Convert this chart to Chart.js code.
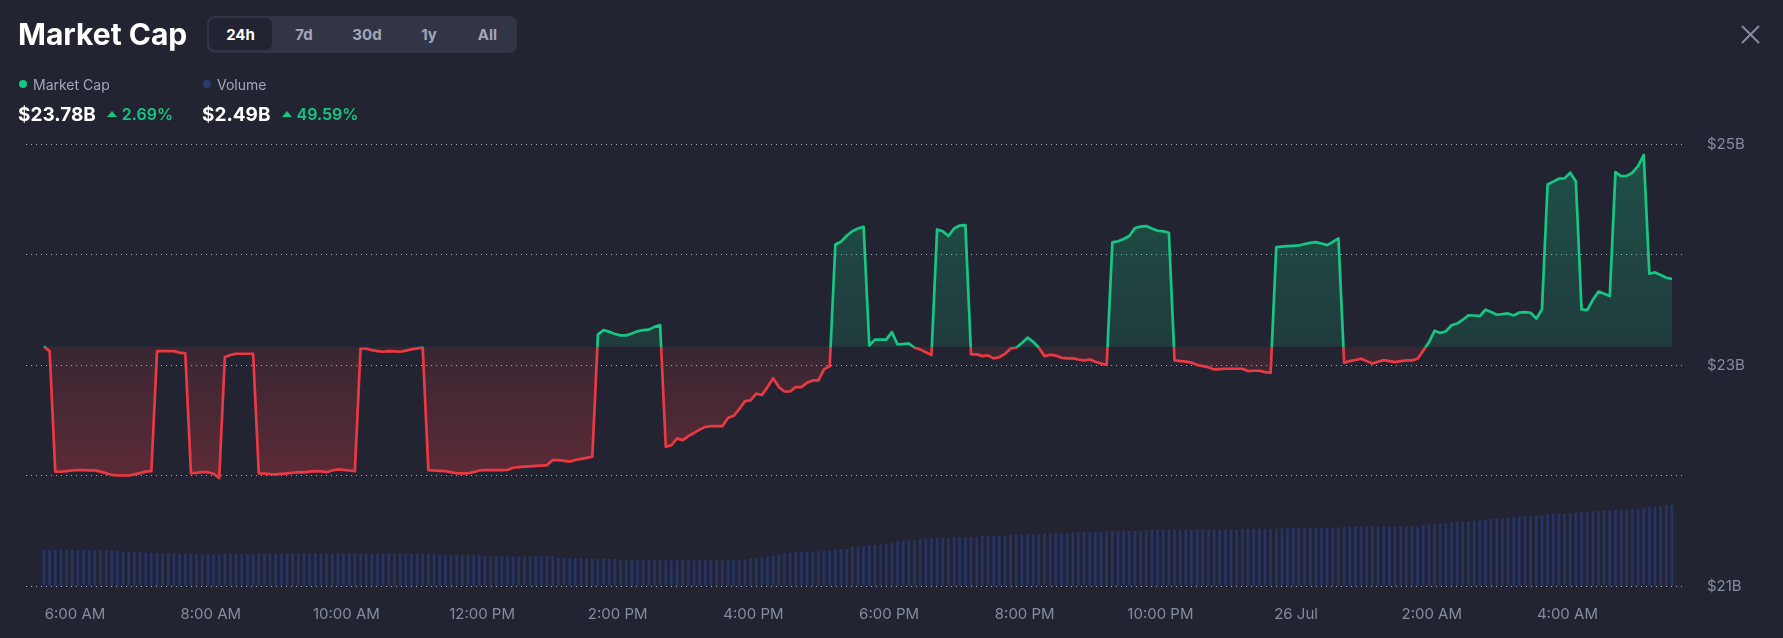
<!DOCTYPE html>
<html>
<head>
<meta charset="utf-8">
<title>Market Cap</title>
<script src="https://cdn.jsdelivr.net/npm/chart.js@4.4.1/dist/chart.umd.min.js"></script>
<style>
  html, body { margin: 0; padding: 0; background: #222531; }
  body { width: 1783px; height: 638px; position: relative; overflow: hidden; font-family: Inter, "Noto Sans", sans-serif; }
  #wrap { position: absolute; left: 0; top: 0; width: 1783px; height: 638px; }
  .title { position: absolute; left: 18px; top: 19px; font-size: 30px; line-height: 1; font-weight: 700; color: #fff; }
  .tabs { position: absolute; left: 207px; top: 16px; width: 306px; height: 32px; padding: 2px 2px 3px 2px; background: #323546; border-radius: 8px; display: flex; }
  .tab { display: flex; align-items: center; justify-content: center; font-size: 15px; font-weight: 700; color: #a1a7bb; border-radius: 6px; }
  .tab.on { background: #222531; color: #fff; }
  .close { position: absolute; left: 1741px; top: 25px; }
  .leg { position: absolute; top: 74px; height: 20px; display: flex; align-items: center; font-size: 14px; color: #a1a7bb; }
  .dot { width: 8px; height: 8px; border-radius: 50%; margin-right: 6px; }
  .val { position: absolute; top: 103px; height: 22px; display: flex; align-items: center; }
  .num { font-size: 19px; font-weight: 700; color: #fff; }
  .up { width: 0; height: 0; border-left: 5px solid transparent; border-right: 5px solid transparent; border-bottom: 6px solid #16c784; margin: 0 5px 0 11px; }
  .pct { font-size: 16px; font-weight: 600; color: #16c784; }
</style>
</head>
<body>
<div id="wrap"><canvas id="chart"></canvas></div>

<div class="title">Market Cap</div>
<div class="tabs">
  <div class="tab on" style="width:63px">24h</div><div class="tab" style="width:64px">7d</div><div class="tab" style="width:62px">30d</div><div class="tab" style="width:62px">1y</div><div class="tab" style="width:55px">All</div>
</div>
<svg class="close" width="19" height="19" viewBox="0 0 19 19">
  <path d="M1.5 1.5 L17.5 17.5 M17.5 1.5 L1.5 17.5" stroke="#858ca2" stroke-width="2" stroke-linecap="round"/>
</svg>

<div class="leg" style="left:19px"><span class="dot" style="background:#16c784"></span>Market Cap</div>
<div class="leg" style="left:203px"><span class="dot" style="background:#2d3770"></span>Volume</div>

<div class="val" style="left:18px"><span class="num">$23.78B</span><span class="up"></span><span class="pct">2.69%</span></div>
<div class="val" style="left:202px"><span class="num">$2.49B</span><span class="up"></span><span class="pct">49.59%</span></div>

<script>
// 5-minute points, first one at 5:32:30 AM (minutes after midnight)
const startMinute = 332.5;
const stepMinutes = 5;

// market cap in $B, one row per hour
const marketCap = [
  23.166, 23.126, 22.034, 22.035, 22.040, 22.045, 22.050, 22.048, 22.046, 22.046, 22.035, 22.020,
  22.005, 22.000, 22.000, 22.000, 22.010, 22.022, 22.035, 22.040, 23.126, 23.126, 23.126, 23.126,
  23.112, 23.105, 22.020, 22.025, 22.030, 22.030, 22.016, 21.977, 23.072, 23.090, 23.102, 23.102,
  23.102, 23.102, 22.020, 22.018, 22.012, 22.010, 22.015, 22.020, 22.025, 22.030, 22.028, 22.035,
  22.040, 22.038, 22.030, 22.045, 22.055, 22.050, 22.045, 22.040, 23.147, 23.147, 23.135, 23.125,
  23.120, 23.126, 23.124, 23.120, 23.130, 23.141, 23.150, 23.156, 22.049, 22.045, 22.042, 22.040,
  22.030, 22.020, 22.020, 22.020, 22.030, 22.045, 22.049, 22.049, 22.049, 22.049, 22.050, 22.070,
  22.075, 22.080, 22.083, 22.087, 22.090, 22.094, 22.140, 22.140, 22.132, 22.125, 22.140, 22.150,
  22.160, 22.170, 23.277, 23.316, 23.300, 23.280, 23.268, 23.268, 23.285, 23.305, 23.316, 23.320,
  23.345, 23.361, 22.260, 22.275, 22.336, 22.320, 22.357, 22.385, 22.415, 22.440, 22.446, 22.446,
  22.446, 22.520, 22.540, 22.600, 22.673, 22.680, 22.740, 22.728, 22.800, 22.880, 22.800, 22.760,
  22.760, 22.800, 22.800, 22.840, 22.860, 22.860, 22.960, 22.990, 24.090, 24.116, 24.170, 24.210,
  24.235, 24.250, 23.177, 23.230, 23.230, 23.230, 23.298, 23.186, 23.190, 23.195, 23.156, 23.141,
  23.115, 23.090, 24.227, 24.210, 24.167, 24.235, 24.262, 24.266, 23.096, 23.096, 23.080, 23.087,
  23.060, 23.070, 23.100, 23.150, 23.156, 23.200, 23.247, 23.210, 23.156, 23.080, 23.093, 23.085,
  23.065, 23.060, 23.060, 23.050, 23.042, 23.050, 23.030, 23.014, 23.000, 24.110, 24.120, 24.140,
  24.167, 24.240, 24.252, 24.257, 24.235, 24.215, 24.210, 24.197, 23.042, 23.035, 23.030, 23.022,
  23.000, 22.990, 22.980, 22.960, 22.963, 22.966, 22.966, 22.966, 22.966, 22.945, 22.948, 22.948,
  22.936, 22.930, 24.067, 24.072, 24.075, 24.078, 24.082, 24.095, 24.105, 24.112, 24.100, 24.085,
  24.115, 24.146, 23.021, 23.035, 23.045, 23.057, 23.035, 23.014, 23.030, 23.044, 23.035, 23.026,
  23.035, 23.042, 23.042, 23.057, 23.130, 23.205, 23.310, 23.290, 23.305, 23.360, 23.375, 23.410,
  23.450, 23.448, 23.443, 23.500, 23.480, 23.455, 23.460, 23.467, 23.448, 23.475, 23.478, 23.473,
  23.420, 23.503, 24.633, 24.660, 24.686, 24.689, 24.740, 24.660, 23.503, 23.497, 23.590, 23.665,
  23.645, 23.625, 24.746, 24.710, 24.712, 24.740, 24.800, 24.900, 23.826, 23.838, 23.815, 23.790,
  23.780
];

// volume in $B, same timestamps
const volume = [
  1.10, 1.10, 1.10, 1.10, 1.10, 1.10, 1.10, 1.10, 1.10, 1.09, 1.09, 1.09, 1.08,
  1.06, 1.05, 1.05, 1.04, 1.04,
  1.02, 1.01, 1.01, 1.00,
  1.00, 1.00, 0.99, 0.99,
  0.98, 0.98, 0.97, 0.97, 0.97, 0.97, 0.97, 0.97, 0.97, 0.97, 0.97, 0.97, 0.98,
  0.99, 0.99, 0.99, 0.99, 0.99, 0.99, 0.99, 0.99, 0.99, 0.99, 0.99, 0.99, 0.99, 0.99, 0.99, 0.99,
  0.99, 0.99, 0.99, 0.99, 0.99, 0.99, 0.99, 0.99, 0.99, 0.99, 0.99, 0.99, 0.99, 0.98, 0.98,
  0.95, 0.95, 0.94, 0.94, 0.94, 0.94, 0.94, 0.94,
  0.91, 0.90, 0.90, 0.90, 0.90, 0.90, 0.90, 0.90, 0.90, 0.90, 0.90, 0.90, 0.90,
  0.86, 0.85, 0.85, 0.85, 0.85, 0.85,
  0.82, 0.82, 0.82, 0.82, 0.82,
  0.78, 0.78, 0.78, 0.78, 0.78, 0.78, 0.78, 0.78, 0.78, 0.78, 0.78,
  0.78, 0.78, 0.78, 0.78, 0.78, 0.78, 0.78, 0.78, 0.78, 0.78, 0.78,
  0.80, 0.83, 0.85, 0.87,
  0.90, 0.93, 0.96, 0.99, 1.02, 1.03,
  1.04, 1.04, 1.04, 1.05,
  1.08, 1.08,
  1.13, 1.13, 1.13,
  1.19, 1.20, 1.23, 1.23,
  1.26, 1.26, 1.30,
  1.31, 1.36, 1.39, 1.39,
  1.41, 1.44, 1.44,
  1.47, 1.47, 1.47, 1.47,
  1.50, 1.50, 1.50, 1.50, 1.50,
  1.54, 1.54, 1.54, 1.54, 1.54,
  1.57, 1.57, 1.57, 1.57, 1.57, 1.57,
  1.61, 1.61, 1.61, 1.61, 1.61,
  1.65, 1.65, 1.65, 1.65, 1.65, 1.65,
  1.68, 1.68, 1.68, 1.68, 1.68, 1.68, 1.68,
  1.72, 1.72, 1.72, 1.72, 1.72, 1.72, 1.72, 1.72, 1.72, 1.72, 1.72, 1.72, 1.72, 1.72, 1.72, 1.72, 1.72,
  1.75, 1.75, 1.75, 1.75, 1.75, 1.75, 1.75, 1.75,
  1.78, 1.78, 1.78, 1.78, 1.78, 1.78, 1.78, 1.78, 1.78, 1.78,
  1.82, 1.82, 1.82, 1.82, 1.82, 1.82, 1.82, 1.82, 1.82, 1.82, 1.82, 1.82, 1.82, 1.82,
  1.86, 1.88, 1.90, 1.91, 1.92,
  1.94, 1.95, 1.97, 1.98,
  2.00, 2.01, 2.03, 2.05,
  2.07, 2.09, 2.10, 2.11, 2.12,
  2.14, 2.15, 2.16, 2.17,
  2.19, 2.20, 2.21, 2.22, 2.23, 2.24,
  2.26, 2.27, 2.28, 2.29, 2.30, 2.31,
  2.32, 2.33, 2.34, 2.34, 2.35,
  2.38, 2.41, 2.44,
  2.46, 2.48, 2.49
];

const tickMinutes = [360, 480, 600, 720, 840, 960, 1080, 1200, 1320, 1440, 1560, 1680];
const tickLabels = ['6:00 AM', '8:00 AM', '10:00 AM', '12:00 PM', '2:00 PM', '4:00 PM',
                    '6:00 PM', '8:00 PM', '10:00 PM', '26 Jul', '2:00 AM', '4:00 AM'];
const priceTicks = [21, 23, 25];

const green = '#16c784';
const red = '#ea3943';
const base = marketCap[0];

// line turns green above the opening value and red below it
function splitStroke(ctx) {
    const chart = ctx.chart;
    const area = chart.chartArea;
    if (!area) return green;
    const y = chart.scales.y.getPixelForValue(base);
    const f = Math.min(Math.max((y - area.top) / (area.bottom - area.top), 0), 1);
    const g = chart.ctx.createLinearGradient(0, area.top, 0, area.bottom);
    g.addColorStop(0, green);
    g.addColorStop(f, green);
    g.addColorStop(f, red);
    g.addColorStop(1, red);
    return g;
}

function splitFill(ctx) {
    const chart = ctx.chart;
    const area = chart.chartArea;
    if (!area) {
        return { value: base, above: 'rgba(22,199,132,0.2)', below: 'rgba(234,57,67,0.2)' };
    }
    const y = chart.scales.y.getPixelForValue(base);
    const up = chart.ctx.createLinearGradient(0, area.top, 0, y);
    up.addColorStop(0, 'rgba(22,199,132,0.28)');
    up.addColorStop(1, 'rgba(22,199,132,0.14)');
    const down = chart.ctx.createLinearGradient(0, y, 0, area.bottom);
    down.addColorStop(0, 'rgba(234,57,67,0.11)');
    down.addColorStop(1, 'rgba(234,57,67,0.45)');
    return { value: base, above: up, below: down };
}

const lineData = marketCap.map((v, i) => ({ x: startMinute + i * stepMinutes, y: v }));
const barData = volume.map((v, i) => ({ x: startMinute + i * stepMinutes, y: v }));

const axisFont = { family: 'Inter', size: 15 };

new Chart(document.getElementById('chart'), {
    type: 'line',
    data: {
        datasets: [
            {
                type: 'line',
                label: 'Market Cap',
                data: lineData,
                yAxisID: 'y',
                borderColor: splitStroke,
                borderWidth: 2.7,
                borderJoinStyle: 'round',
                pointRadius: 0,
                tension: 0,
                fill: splitFill
            },
            {
                type: 'bar',
                label: 'Volume',
                data: barData,
                yAxisID: 'yv',
                backgroundColor: '#283366',
                barThickness: 2,
                borderWidth: 0
            }
        ]
    },
    options: {
        responsive: true,
        maintainAspectRatio: false,
        animation: false,
        devicePixelRatio: 1,
        layout: { padding: { left: 26, top: 144, right: 0, bottom: 0 } },
        plugins: {
            legend: { display: false },
            tooltip: { enabled: false }
        },
        scales: {
            x: {
                type: 'linear',
                min: 316.6,
                max: 1784.9,
                offset: false,
                grid: { display: false, drawTicks: false },
                border: { display: false },
                afterBuildTicks: s => { s.ticks = tickMinutes.map(v => ({ value: v })); },
                afterFit: s => { s.height = 52; },
                ticks: {
                    autoSkip: false,
                    maxRotation: 0,
                    padding: 19,
                    color: '#858ca2',
                    font: axisFont,
                    callback: (v, i) => tickLabels[i]
                }
            },
            y: {
                position: 'right',
                min: 21,
                max: 25,
                grid: { color: 'rgba(225,228,238,0.7)', drawTicks: false },
                border: { display: false, dash: [1, 4] },
                afterFit: s => { s.width = 97; },
                ticks: {
                    stepSize: 1,
                    padding: 21,
                    color: '#858ca2',
                    font: axisFont,
                    callback: v => priceTicks.includes(v) ? '$' + v + 'B' : ''
                }
            },
            yv: { display: false, min: 0, max: 13.59 }
        }
    }
});
</script>
</body>
</html>
